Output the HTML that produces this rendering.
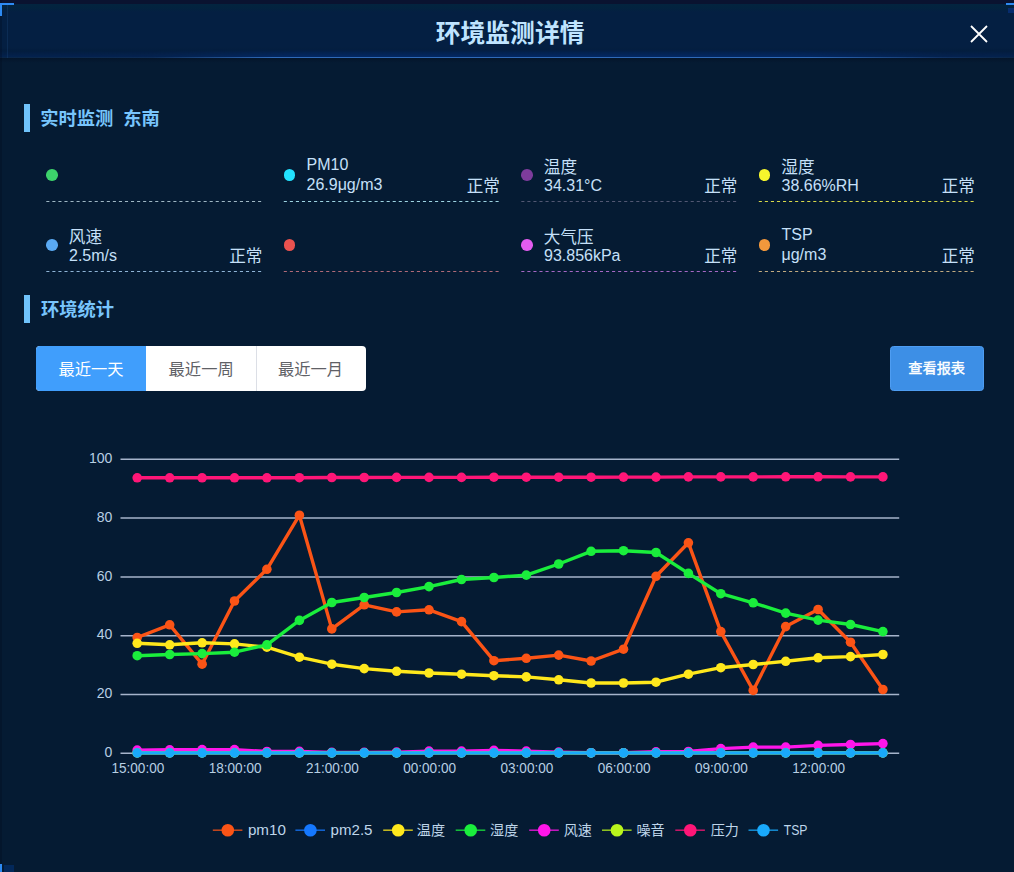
<!DOCTYPE html>
<html lang="zh-CN">
<head>
<meta charset="utf-8">
<title>环境监测详情</title>
<style>
html,body{margin:0;padding:0}
body{width:1014px;height:872px;overflow:hidden;position:relative;background:#051b33;font-family:"Liberation Sans",sans-serif;color:#c6e0f9}
.sr{position:absolute;left:0;top:0;width:1px;height:1px;overflow:hidden;opacity:0;font-size:1px;white-space:nowrap;pointer-events:none}
#edge{position:absolute;left:0;top:0;width:2px;height:872px;background:rgba(2,10,30,.28)}
#edge2{position:absolute;left:6.5px;top:3.5px;width:1.2px;height:54px;background:rgba(40,90,150,.22)}
#topstrip{position:absolute;left:0;top:0;width:1014px;height:3.5px;background:#0a1330}
#hd{position:absolute;left:0;top:3.5px;width:1014px;height:54.5px;background:linear-gradient(180deg,#03243f 0,#03233f 4px,#041f42 8px,#041f42 43px,#041d3d 47px,#04214c 54px)}
#hdglow{position:absolute;left:0;top:49px;width:1014px;height:8px;background:linear-gradient(90deg,rgba(3,40,100,.15) 0,rgba(3,40,100,.25) 15%,rgba(3,40,100,.95) 30%,rgba(3,40,100,.95) 78%,rgba(3,40,100,.25) 93%,rgba(3,40,100,.15) 100%);-webkit-mask-image:linear-gradient(180deg,transparent,#000);mask-image:linear-gradient(180deg,transparent,#000)}
#hdline{position:absolute;left:0;top:57px;width:1014px;height:1.3px;background:linear-gradient(90deg,#0a2648 0,#0d2c56 15%,#2f6ab8 27%,#2f6ab8 80%,#0f3060 93%,#0a2648 100%)}
#hdsh{position:absolute;left:0;top:58px;width:1014px;height:5px;background:linear-gradient(180deg,#04152b,#051b33)}
.corner{position:absolute;background:#2d8af2}
.bar{position:absolute;left:24px;width:6px;height:28px;background:#70c3fb}
.dot{position:absolute;width:11.6px;height:11.6px;border-radius:50%}
.lt{position:absolute;font-size:16px;line-height:20px;white-space:nowrap;color:#c6e0f9}
#tabs{position:absolute;left:36px;top:346px;width:330px;height:45px;border-radius:4px;background:#fff;overflow:hidden}
#tabs b{position:absolute;top:0;height:45px;width:110px;display:block}
#tabs .on{left:0;background:#409efc}
#tabs .sep{left:219.5px;width:1px;background:#dcdfe6}
#btn{position:absolute;left:890px;top:346px;width:92px;height:43px;border-radius:3.5px;background:#3d8fe6;border:1px solid #4e9df2}
#ov{position:absolute;left:0;top:0}
.ax{font-family:"Liberation Sans",sans-serif;font-size:15.2px;fill:#b7cfe3}
.lg{font-family:"Liberation Sans",sans-serif;font-size:15px;fill:#bfd6ea}
#cjk text{font-family:"Liberation Sans","Noto Sans CJK SC",sans-serif}
</style>
</head>
<body>
<div id="topstrip"></div>
<div id="hd"><h2 class="sr">环境监测详情</h2></div>
<div id="hdglow"></div><div id="hdline"></div><div id="hdsh"></div>
<div id="edge"></div><div id="edge2"></div>
<i class="corner" style="left:0;top:3px;width:14px;height:2px"></i>
<i class="corner" style="left:0;top:3px;width:2px;height:13px"></i>
<i class="corner" style="left:1006px;top:3px;width:8px;height:2px"></i>
<i class="corner" style="left:1008px;top:8px;width:6px;height:5px;background:#072c6e"></i>
<i class="corner" style="left:0;top:864px;width:2px;height:8px"></i>
<i class="corner" style="left:4px;top:865px;width:10px;height:7px;background:#03285a"></i>
<svg id="close" width="18" height="18" viewBox="0 0 18 18" style="position:absolute;left:970px;top:25px"><path d="M1 1L17 17M17 1L1 17" stroke="#ffffff" stroke-width="1.8" fill="none"/></svg>

<i class="bar" style="top:103.7px"></i>
<h3 class="sr">实时监测 东南</h3>
<div id="items">
<div class="item"><i class="dot" style="left:46.2px;top:169.2px;background:#3dd26b"></i></div>
<div class="item"><i class="dot" style="left:283.7px;top:169.2px;background:#22e2ff"></i><span class="lt" style="left:306.5px;top:155px">PM10</span><span class="lt" style="left:306.5px;top:175px">26.9μg/m3</span><span class="sr">正常</span></div>
<div class="item"><i class="dot" style="left:521.2px;top:169.2px;background:#7d3c9c"></i><span class="sr">温度</span><span class="lt" style="left:544.0px;top:176px">34.31°C</span><span class="sr">正常</span></div>
<div class="item"><i class="dot" style="left:758.7px;top:169.2px;background:#f6f62c"></i><span class="sr">湿度</span><span class="lt" style="left:781.5px;top:176px">38.66%RH</span><span class="sr">正常</span></div>
<div class="item"><i class="dot" style="left:46.2px;top:239.2px;background:#5aa9f2"></i><span class="sr">风速</span><span class="lt" style="left:69.0px;top:246px">2.5m/s</span><span class="sr">正常</span></div>
<div class="item"><i class="dot" style="left:283.7px;top:239.2px;background:#ea524f"></i></div>
<div class="item"><i class="dot" style="left:521.2px;top:239.2px;background:#e45cf0"></i><span class="sr">大气压</span><span class="lt" style="left:544.0px;top:246px">93.856kPa</span><span class="sr">正常</span></div>
<div class="item"><i class="dot" style="left:758.7px;top:239.2px;background:#f2983c"></i><span class="lt" style="left:781.5px;top:225px">TSP</span><span class="lt" style="left:781.5px;top:245px">μg/m3</span><span class="sr">正常</span></div>
</div>
<i class="bar" style="top:294.8px"></i>
<h3 class="sr">环境统计</h3>
<div id="tabs"><b class="on"></b><b class="sep"></b><span class="sr">最近一天</span><span class="sr">最近一周</span><span class="sr">最近一月</span></div>
<div id="btn"><span class="sr">查看报表</span></div>
<div class="sr">pm10 pm2.5 温度 湿度 风速 噪音 压力 TSP</div>

<svg id="ov" width="1014" height="872" viewBox="0 0 1014 872">
<g id="dashes" stroke-width="1" stroke-dasharray="3.1 2.95" fill="none">
<line x1="46.3" x2="261.8" y1="201.5" y2="201.5" stroke="#9fb7c4"/>
<line x1="283.8" x2="499.3" y1="201.5" y2="201.5" stroke="#9ed4e2"/>
<line x1="521.3" x2="736.8" y1="201.5" y2="201.5" stroke="#525873"/>
<line x1="758.8" x2="974.3" y1="201.5" y2="201.5" stroke="#d9d94a"/>
<line x1="46.3" x2="261.8" y1="271.5" y2="271.5" stroke="#8fb4d6"/>
<line x1="283.8" x2="499.3" y1="271.5" y2="271.5" stroke="#b06a78"/>
<line x1="521.3" x2="736.8" y1="271.5" y2="271.5" stroke="#a668c4"/>
<line x1="758.8" x2="974.3" y1="271.5" y2="271.5" stroke="#c2ab80"/>
</g>
<g id="chart">
<line x1="120.5" x2="899.2" y1="459.30" y2="459.30" stroke="#a6b4cb" stroke-width="1.5"/>
<line x1="120.5" x2="899.2" y1="518.10" y2="518.10" stroke="#a6b4cb" stroke-width="1.5"/>
<line x1="120.5" x2="899.2" y1="576.90" y2="576.90" stroke="#a6b4cb" stroke-width="1.5"/>
<line x1="120.5" x2="899.2" y1="635.70" y2="635.70" stroke="#a6b4cb" stroke-width="1.5"/>
<line x1="120.5" x2="899.2" y1="694.50" y2="694.50" stroke="#a6b4cb" stroke-width="1.5"/>
<line x1="120.5" x2="899.2" y1="753.30" y2="753.30" stroke="#a6b4cb" stroke-width="1.5"/>
<text x="88.90" y="463.00" textLength="23.4" lengthAdjust="spacingAndGlyphs" class="ax">100</text>
<text x="96.70" y="521.80" textLength="15.6" lengthAdjust="spacingAndGlyphs" class="ax">80</text>
<text x="96.70" y="580.60" textLength="15.6" lengthAdjust="spacingAndGlyphs" class="ax">60</text>
<text x="96.70" y="639.40" textLength="15.6" lengthAdjust="spacingAndGlyphs" class="ax">40</text>
<text x="96.70" y="698.20" textLength="15.6" lengthAdjust="spacingAndGlyphs" class="ax">20</text>
<text x="104.50" y="757.00" textLength="7.8" lengthAdjust="spacingAndGlyphs" class="ax">0</text>
<text x="111.45" y="772.6" textLength="52.8" lengthAdjust="spacingAndGlyphs" class="ax">15:00:00</text>
<text x="208.71" y="772.6" textLength="52.8" lengthAdjust="spacingAndGlyphs" class="ax">18:00:00</text>
<text x="305.97" y="772.6" textLength="52.8" lengthAdjust="spacingAndGlyphs" class="ax">21:00:00</text>
<text x="403.23" y="772.6" textLength="52.8" lengthAdjust="spacingAndGlyphs" class="ax">00:00:00</text>
<text x="500.49" y="772.6" textLength="52.8" lengthAdjust="spacingAndGlyphs" class="ax">03:00:00</text>
<text x="597.75" y="772.6" textLength="52.8" lengthAdjust="spacingAndGlyphs" class="ax">06:00:00</text>
<text x="695.01" y="772.6" textLength="52.8" lengthAdjust="spacingAndGlyphs" class="ax">09:00:00</text>
<text x="792.27" y="772.6" textLength="52.8" lengthAdjust="spacingAndGlyphs" class="ax">12:00:00</text>
<g fill="#fb5416" stroke="none"><polyline points="137.2,637.5 169.7,624.8 202.1,664.2 234.5,601.0 266.9,569.3 299.4,515.2 331.8,628.9 364.2,604.8 396.6,611.9 429.0,609.8 461.5,621.6 493.9,660.7 526.3,658.3 558.7,655.1 591.1,661.0 623.5,649.2 656.0,576.3 688.4,542.8 720.8,631.6 753.2,690.4 785.7,626.6 818.1,609.5 850.5,642.2 882.9,689.5" fill="none" stroke="#fb5416" stroke-width="3.4" stroke-linejoin="round" stroke-linecap="round"/><circle cx="137.2" cy="637.5" r="4.8"/><circle cx="169.7" cy="624.8" r="4.8"/><circle cx="202.1" cy="664.2" r="4.8"/><circle cx="234.5" cy="601.0" r="4.8"/><circle cx="266.9" cy="569.3" r="4.8"/><circle cx="299.4" cy="515.2" r="4.8"/><circle cx="331.8" cy="628.9" r="4.8"/><circle cx="364.2" cy="604.8" r="4.8"/><circle cx="396.6" cy="611.9" r="4.8"/><circle cx="429.0" cy="609.8" r="4.8"/><circle cx="461.5" cy="621.6" r="4.8"/><circle cx="493.9" cy="660.7" r="4.8"/><circle cx="526.3" cy="658.3" r="4.8"/><circle cx="558.7" cy="655.1" r="4.8"/><circle cx="591.1" cy="661.0" r="4.8"/><circle cx="623.5" cy="649.2" r="4.8"/><circle cx="656.0" cy="576.3" r="4.8"/><circle cx="688.4" cy="542.8" r="4.8"/><circle cx="720.8" cy="631.6" r="4.8"/><circle cx="753.2" cy="690.4" r="4.8"/><circle cx="785.7" cy="626.6" r="4.8"/><circle cx="818.1" cy="609.5" r="4.8"/><circle cx="850.5" cy="642.2" r="4.8"/><circle cx="882.9" cy="689.5" r="4.8"/></g>
<g fill="#1578ff" stroke="none"><polyline points="137.2,752.9 169.7,752.9 202.1,752.9 234.5,752.9 266.9,752.9 299.4,752.9 331.8,752.9 364.2,752.9 396.6,752.9 429.0,752.9 461.5,752.9 493.9,752.9 526.3,752.9 558.7,752.9 591.1,752.9 623.5,752.9 656.0,752.9 688.4,752.9 720.8,752.9 753.2,752.9 785.7,752.9 818.1,752.9 850.5,752.9 882.9,752.9" fill="none" stroke="#1578ff" stroke-width="3.4" stroke-linejoin="round" stroke-linecap="round"/><circle cx="137.2" cy="752.9" r="4.8"/><circle cx="169.7" cy="752.9" r="4.8"/><circle cx="202.1" cy="752.9" r="4.8"/><circle cx="234.5" cy="752.9" r="4.8"/><circle cx="266.9" cy="752.9" r="4.8"/><circle cx="299.4" cy="752.9" r="4.8"/><circle cx="331.8" cy="752.9" r="4.8"/><circle cx="364.2" cy="752.9" r="4.8"/><circle cx="396.6" cy="752.9" r="4.8"/><circle cx="429.0" cy="752.9" r="4.8"/><circle cx="461.5" cy="752.9" r="4.8"/><circle cx="493.9" cy="752.9" r="4.8"/><circle cx="526.3" cy="752.9" r="4.8"/><circle cx="558.7" cy="752.9" r="4.8"/><circle cx="591.1" cy="752.9" r="4.8"/><circle cx="623.5" cy="752.9" r="4.8"/><circle cx="656.0" cy="752.9" r="4.8"/><circle cx="688.4" cy="752.9" r="4.8"/><circle cx="720.8" cy="752.9" r="4.8"/><circle cx="753.2" cy="752.9" r="4.8"/><circle cx="785.7" cy="752.9" r="4.8"/><circle cx="818.1" cy="752.9" r="4.8"/><circle cx="850.5" cy="752.9" r="4.8"/><circle cx="882.9" cy="752.9" r="4.8"/></g>
<g fill="#ffe81c" stroke="none"><polyline points="137.2,643.3 169.7,644.8 202.1,642.8 234.5,643.9 266.9,647.2 299.4,657.2 331.8,664.2 364.2,668.6 396.6,671.3 429.0,673.0 461.5,674.2 493.9,675.7 526.3,676.9 558.7,679.8 591.1,683.0 623.5,683.0 656.0,682.2 688.4,674.2 720.8,667.7 753.2,664.5 785.7,661.3 818.1,657.8 850.5,656.6 882.9,654.5" fill="none" stroke="#ffe81c" stroke-width="3.4" stroke-linejoin="round" stroke-linecap="round"/><circle cx="137.2" cy="643.3" r="4.8"/><circle cx="169.7" cy="644.8" r="4.8"/><circle cx="202.1" cy="642.8" r="4.8"/><circle cx="234.5" cy="643.9" r="4.8"/><circle cx="266.9" cy="647.2" r="4.8"/><circle cx="299.4" cy="657.2" r="4.8"/><circle cx="331.8" cy="664.2" r="4.8"/><circle cx="364.2" cy="668.6" r="4.8"/><circle cx="396.6" cy="671.3" r="4.8"/><circle cx="429.0" cy="673.0" r="4.8"/><circle cx="461.5" cy="674.2" r="4.8"/><circle cx="493.9" cy="675.7" r="4.8"/><circle cx="526.3" cy="676.9" r="4.8"/><circle cx="558.7" cy="679.8" r="4.8"/><circle cx="591.1" cy="683.0" r="4.8"/><circle cx="623.5" cy="683.0" r="4.8"/><circle cx="656.0" cy="682.2" r="4.8"/><circle cx="688.4" cy="674.2" r="4.8"/><circle cx="720.8" cy="667.7" r="4.8"/><circle cx="753.2" cy="664.5" r="4.8"/><circle cx="785.7" cy="661.3" r="4.8"/><circle cx="818.1" cy="657.8" r="4.8"/><circle cx="850.5" cy="656.6" r="4.8"/><circle cx="882.9" cy="654.5" r="4.8"/></g>
<g fill="#1aee3c" stroke="none"><polyline points="137.2,655.7 169.7,654.5 202.1,653.6 234.5,652.2 266.9,644.8 299.4,620.4 331.8,602.5 364.2,597.5 396.6,592.5 429.0,586.6 461.5,579.5 493.9,577.5 526.3,575.1 558.7,564.0 591.1,551.3 623.5,550.7 656.0,552.5 688.4,573.4 720.8,593.7 753.2,602.8 785.7,613.1 818.1,620.1 850.5,624.5 882.9,631.6" fill="none" stroke="#1aee3c" stroke-width="3.4" stroke-linejoin="round" stroke-linecap="round"/><circle cx="137.2" cy="655.7" r="4.8"/><circle cx="169.7" cy="654.5" r="4.8"/><circle cx="202.1" cy="653.6" r="4.8"/><circle cx="234.5" cy="652.2" r="4.8"/><circle cx="266.9" cy="644.8" r="4.8"/><circle cx="299.4" cy="620.4" r="4.8"/><circle cx="331.8" cy="602.5" r="4.8"/><circle cx="364.2" cy="597.5" r="4.8"/><circle cx="396.6" cy="592.5" r="4.8"/><circle cx="429.0" cy="586.6" r="4.8"/><circle cx="461.5" cy="579.5" r="4.8"/><circle cx="493.9" cy="577.5" r="4.8"/><circle cx="526.3" cy="575.1" r="4.8"/><circle cx="558.7" cy="564.0" r="4.8"/><circle cx="591.1" cy="551.3" r="4.8"/><circle cx="623.5" cy="550.7" r="4.8"/><circle cx="656.0" cy="552.5" r="4.8"/><circle cx="688.4" cy="573.4" r="4.8"/><circle cx="720.8" cy="593.7" r="4.8"/><circle cx="753.2" cy="602.8" r="4.8"/><circle cx="785.7" cy="613.1" r="4.8"/><circle cx="818.1" cy="620.1" r="4.8"/><circle cx="850.5" cy="624.5" r="4.8"/><circle cx="882.9" cy="631.6" r="4.8"/></g>
<g fill="#ff16ea" stroke="none"><polyline points="137.2,750.1 169.7,749.8 202.1,749.6 234.5,749.6 266.9,751.5 299.4,751.4 331.8,752.4 364.2,752.4 396.6,752.1 429.0,751.1 461.5,751.1 493.9,750.4 526.3,751.1 558.7,752.1 591.1,752.7 623.5,752.7 656.0,751.8 688.4,751.5 720.8,748.6 753.2,747.1 785.7,747.1 818.1,745.4 850.5,744.5 882.9,743.6" fill="none" stroke="#ff16ea" stroke-width="3.4" stroke-linejoin="round" stroke-linecap="round"/><circle cx="137.2" cy="750.1" r="4.8"/><circle cx="169.7" cy="749.8" r="4.8"/><circle cx="202.1" cy="749.6" r="4.8"/><circle cx="234.5" cy="749.6" r="4.8"/><circle cx="266.9" cy="751.5" r="4.8"/><circle cx="299.4" cy="751.4" r="4.8"/><circle cx="331.8" cy="752.4" r="4.8"/><circle cx="364.2" cy="752.4" r="4.8"/><circle cx="396.6" cy="752.1" r="4.8"/><circle cx="429.0" cy="751.1" r="4.8"/><circle cx="461.5" cy="751.1" r="4.8"/><circle cx="493.9" cy="750.4" r="4.8"/><circle cx="526.3" cy="751.1" r="4.8"/><circle cx="558.7" cy="752.1" r="4.8"/><circle cx="591.1" cy="752.7" r="4.8"/><circle cx="623.5" cy="752.7" r="4.8"/><circle cx="656.0" cy="751.8" r="4.8"/><circle cx="688.4" cy="751.5" r="4.8"/><circle cx="720.8" cy="748.6" r="4.8"/><circle cx="753.2" cy="747.1" r="4.8"/><circle cx="785.7" cy="747.1" r="4.8"/><circle cx="818.1" cy="745.4" r="4.8"/><circle cx="850.5" cy="744.5" r="4.8"/><circle cx="882.9" cy="743.6" r="4.8"/></g>
<g fill="#b9f51c" stroke="none"><polyline points="137.2,752.9 169.7,752.9 202.1,752.9 234.5,752.9 266.9,752.9 299.4,752.9 331.8,752.9 364.2,752.9 396.6,752.9 429.0,752.9 461.5,752.9 493.9,752.9 526.3,752.9 558.7,752.9 591.1,752.9 623.5,752.9 656.0,752.9 688.4,752.9 720.8,752.9 753.2,752.9 785.7,752.9 818.1,752.9 850.5,752.9 882.9,752.9" fill="none" stroke="#b9f51c" stroke-width="3.4" stroke-linejoin="round" stroke-linecap="round"/><circle cx="137.2" cy="752.9" r="4.8"/><circle cx="169.7" cy="752.9" r="4.8"/><circle cx="202.1" cy="752.9" r="4.8"/><circle cx="234.5" cy="752.9" r="4.8"/><circle cx="266.9" cy="752.9" r="4.8"/><circle cx="299.4" cy="752.9" r="4.8"/><circle cx="331.8" cy="752.9" r="4.8"/><circle cx="364.2" cy="752.9" r="4.8"/><circle cx="396.6" cy="752.9" r="4.8"/><circle cx="429.0" cy="752.9" r="4.8"/><circle cx="461.5" cy="752.9" r="4.8"/><circle cx="493.9" cy="752.9" r="4.8"/><circle cx="526.3" cy="752.9" r="4.8"/><circle cx="558.7" cy="752.9" r="4.8"/><circle cx="591.1" cy="752.9" r="4.8"/><circle cx="623.5" cy="752.9" r="4.8"/><circle cx="656.0" cy="752.9" r="4.8"/><circle cx="688.4" cy="752.9" r="4.8"/><circle cx="720.8" cy="752.9" r="4.8"/><circle cx="753.2" cy="752.9" r="4.8"/><circle cx="785.7" cy="752.9" r="4.8"/><circle cx="818.1" cy="752.9" r="4.8"/><circle cx="850.5" cy="752.9" r="4.8"/><circle cx="882.9" cy="752.9" r="4.8"/></g>
<g fill="#ff1677" stroke="none"><polyline points="137.2,477.8 169.7,477.8 202.1,477.8 234.5,477.8 266.9,477.8 299.4,477.7 331.8,477.5 364.2,477.5 396.6,477.4 429.0,477.4 461.5,477.4 493.9,477.2 526.3,477.2 558.7,477.2 591.1,477.2 623.5,477.1 656.0,477.1 688.4,476.9 720.8,476.9 753.2,476.9 785.7,476.8 818.1,476.8 850.5,476.9 882.9,476.9" fill="none" stroke="#ff1677" stroke-width="3.4" stroke-linejoin="round" stroke-linecap="round"/><circle cx="137.2" cy="477.8" r="4.8"/><circle cx="169.7" cy="477.8" r="4.8"/><circle cx="202.1" cy="477.8" r="4.8"/><circle cx="234.5" cy="477.8" r="4.8"/><circle cx="266.9" cy="477.8" r="4.8"/><circle cx="299.4" cy="477.7" r="4.8"/><circle cx="331.8" cy="477.5" r="4.8"/><circle cx="364.2" cy="477.5" r="4.8"/><circle cx="396.6" cy="477.4" r="4.8"/><circle cx="429.0" cy="477.4" r="4.8"/><circle cx="461.5" cy="477.4" r="4.8"/><circle cx="493.9" cy="477.2" r="4.8"/><circle cx="526.3" cy="477.2" r="4.8"/><circle cx="558.7" cy="477.2" r="4.8"/><circle cx="591.1" cy="477.2" r="4.8"/><circle cx="623.5" cy="477.1" r="4.8"/><circle cx="656.0" cy="477.1" r="4.8"/><circle cx="688.4" cy="476.9" r="4.8"/><circle cx="720.8" cy="476.9" r="4.8"/><circle cx="753.2" cy="476.9" r="4.8"/><circle cx="785.7" cy="476.8" r="4.8"/><circle cx="818.1" cy="476.8" r="4.8"/><circle cx="850.5" cy="476.9" r="4.8"/><circle cx="882.9" cy="476.9" r="4.8"/></g>
<g fill="#19a9fb" stroke="none"><polyline points="137.2,752.9 169.7,752.9 202.1,752.9 234.5,752.9 266.9,752.9 299.4,752.9 331.8,752.9 364.2,752.9 396.6,752.9 429.0,752.9 461.5,752.9 493.9,752.9 526.3,752.9 558.7,752.9 591.1,752.9 623.5,752.9 656.0,752.9 688.4,752.9 720.8,752.9 753.2,752.9 785.7,752.9 818.1,752.9 850.5,752.9 882.9,752.9" fill="none" stroke="#19a9fb" stroke-width="3.4" stroke-linejoin="round" stroke-linecap="round"/><circle cx="137.2" cy="752.9" r="4.8"/><circle cx="169.7" cy="752.9" r="4.8"/><circle cx="202.1" cy="752.9" r="4.8"/><circle cx="234.5" cy="752.9" r="4.8"/><circle cx="266.9" cy="752.9" r="4.8"/><circle cx="299.4" cy="752.9" r="4.8"/><circle cx="331.8" cy="752.9" r="4.8"/><circle cx="364.2" cy="752.9" r="4.8"/><circle cx="396.6" cy="752.9" r="4.8"/><circle cx="429.0" cy="752.9" r="4.8"/><circle cx="461.5" cy="752.9" r="4.8"/><circle cx="493.9" cy="752.9" r="4.8"/><circle cx="526.3" cy="752.9" r="4.8"/><circle cx="558.7" cy="752.9" r="4.8"/><circle cx="591.1" cy="752.9" r="4.8"/><circle cx="623.5" cy="752.9" r="4.8"/><circle cx="656.0" cy="752.9" r="4.8"/><circle cx="688.4" cy="752.9" r="4.8"/><circle cx="720.8" cy="752.9" r="4.8"/><circle cx="753.2" cy="752.9" r="4.8"/><circle cx="785.7" cy="752.9" r="4.8"/><circle cx="818.1" cy="752.9" r="4.8"/><circle cx="850.5" cy="752.9" r="4.8"/><circle cx="882.9" cy="752.9" r="4.8"/></g>
<line x1="212.8" x2="242.4" y1="830.2" y2="830.2" stroke="#fb5416" stroke-width="1.5" stroke-opacity=".8"/><circle cx="227.8" cy="830.2" r="6.3" fill="#fb5416"/>
<text x="247.9" y="835.2" textLength="38.0" lengthAdjust="spacingAndGlyphs" class="lg">pm10</text>
<line x1="295.4" x2="325.0" y1="830.2" y2="830.2" stroke="#1578ff" stroke-width="1.5" stroke-opacity=".8"/><circle cx="310.4" cy="830.2" r="6.3" fill="#1578ff"/>
<text x="330.6" y="835.2" textLength="41.9" lengthAdjust="spacingAndGlyphs" class="lg">pm2.5</text>
<line x1="383.2" x2="412.8" y1="830.2" y2="830.2" stroke="#ffe81c" stroke-width="1.5" stroke-opacity=".8"/><circle cx="398.2" cy="830.2" r="6.3" fill="#ffe81c"/>
<line x1="455.7" x2="485.3" y1="830.2" y2="830.2" stroke="#1aee3c" stroke-width="1.5" stroke-opacity=".8"/><circle cx="470.7" cy="830.2" r="6.3" fill="#1aee3c"/>
<line x1="529.2" x2="558.8" y1="830.2" y2="830.2" stroke="#ff16ea" stroke-width="1.5" stroke-opacity=".8"/><circle cx="544.2" cy="830.2" r="6.3" fill="#ff16ea"/>
<line x1="602.0" x2="631.6" y1="830.2" y2="830.2" stroke="#b9f51c" stroke-width="1.5" stroke-opacity=".8"/><circle cx="617.0" cy="830.2" r="6.3" fill="#b9f51c"/>
<line x1="675.3" x2="704.9" y1="830.2" y2="830.2" stroke="#ff1677" stroke-width="1.5" stroke-opacity=".8"/><circle cx="690.3" cy="830.2" r="6.3" fill="#ff1677"/>
<line x1="748.5" x2="778.1" y1="830.2" y2="830.2" stroke="#19a9fb" stroke-width="1.5" stroke-opacity=".8"/><circle cx="763.5" cy="830.2" r="6.3" fill="#19a9fb"/>
<text x="783.7" y="835.2" textLength="23.8" lengthAdjust="spacingAndGlyphs" class="lg">TSP</text>
</g>
<g id="cjk">
<text x="435.70" y="41.59" font-size="24.8" font-weight="bold" fill="#bfe4ff">环境监测详情</text>
<text x="40.26" y="125.06" font-size="18.3" font-weight="bold" fill="#78c5fc">实时监测</text>
<text x="123.34" y="125.06" font-size="18.3" font-weight="bold" fill="#78c5fc">东南</text>
<text x="40.96" y="315.99" font-size="18.3" font-weight="bold" fill="#78c5fc">环境统计</text>
<text x="466.71" y="191.82" font-size="16.6" fill="#c6e0f9">正常</text>
<text x="543.87" y="173.35" font-size="16.6" fill="#c6e0f9">温度</text>
<text x="704.21" y="191.82" font-size="16.6" fill="#c6e0f9">正常</text>
<text x="781.37" y="173.35" font-size="16.6" fill="#c6e0f9">湿度</text>
<text x="941.71" y="191.82" font-size="16.6" fill="#c6e0f9">正常</text>
<text x="68.84" y="243.29" font-size="16.6" fill="#c6e0f9">风速</text>
<text x="229.21" y="261.82" font-size="16.6" fill="#c6e0f9">正常</text>
<text x="543.79" y="243.32" font-size="16.6" fill="#c6e0f9">大气压</text>
<text x="704.21" y="261.82" font-size="16.6" fill="#c6e0f9">正常</text>
<text x="941.71" y="261.82" font-size="16.6" fill="#c6e0f9">正常</text>
<text x="58.39" y="375.19" font-size="16.3" fill="#ffffff">最近一天</text>
<text x="168.59" y="375.15" font-size="16.3" fill="#5f6166">最近一周</text>
<text x="277.88" y="375.19" font-size="16.3" fill="#5f6166">最近一月</text>
<text x="908.28" y="373.28" font-size="14.2" fill="#ffffff" stroke="#ffffff" stroke-width="0.4" stroke-linejoin="round">查看报表</text>
<text x="416.86" y="835.39" font-size="14.1" fill="#bfd6ea">温度</text>
<text x="490.06" y="835.39" font-size="14.1" fill="#bfd6ea">湿度</text>
<text x="563.74" y="835.34" font-size="14.1" fill="#bfd6ea">风速</text>
<text x="636.54" y="835.41" font-size="14.1" fill="#bfd6ea">噪音</text>
<text x="710.65" y="835.32" font-size="14.1" fill="#bfd6ea">压力</text>
</g>
</svg>
</body>
</html>
